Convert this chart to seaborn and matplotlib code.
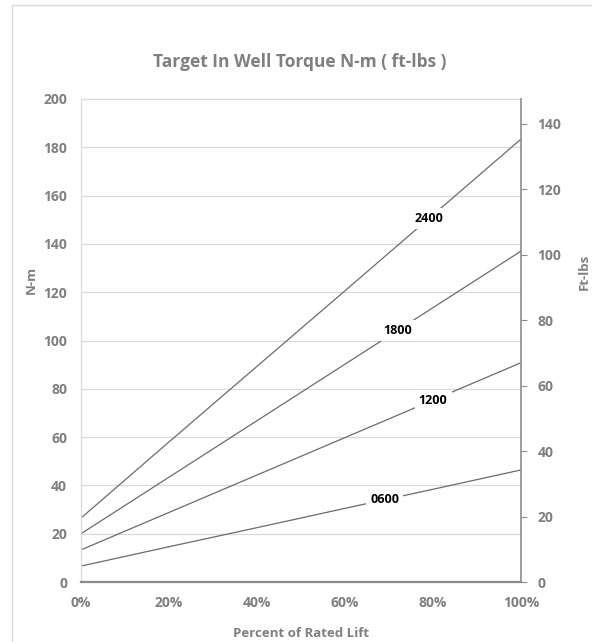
import matplotlib
matplotlib.use('Agg')
import matplotlib.pyplot as plt
import numpy as np
import pandas as pd
import seaborn as sns

# ── Data ──────────────────────────────────────────────────────────────────
pct_lift = [0, 20, 40, 60, 80, 100]
torque_2400 = [26.5, 58.0, 89.3, 120.6, 152.0, 183.4]
torque_1800 = [20.0, 43.4, 66.8, 90.2, 113.6, 137.0]
torque_1200 = [13.3, 28.8, 44.3, 59.8, 75.3, 90.8]
torque_0600 = [6.6, 14.6, 22.5, 30.5, 38.4, 46.4]
series_names = ["2400", "1800", "1200", "0600"]
label_at_pct = [79, 72, 80, 69]

NM_PER_FTLB = 1.3558
left_ticks = list(range(0, 201, 20))
right_ticks = list(range(0, 141, 20))
x_ticks = [0, 20, 40, 60, 80, 100]

df = pd.DataFrame({
    "pct": pct_lift * 4,
    "torque": torque_2400 + torque_1800 + torque_1200 + torque_0600,
    "series": sum([[n] * len(pct_lift) for n in series_names], []),
})

sns.set_style("white")
plt.rcParams['font.family'] = ['Open Sans', 'DejaVu Sans']

GRAY_TXT = "#7f7f7f"
LINE_C = "#6b6b6b"

fig = plt.figure(figsize=(5.92, 6.42), dpi=100)
ax = fig.add_axes([81/592, 1-582/642, 440/592, 483/642])

sns.lineplot(data=df, x="pct", y="torque", hue="series",
             palette={n: LINE_C for n in series_names},
             linewidth=0.9, legend=False, ax=ax)

ax.set_xlim(0, 100)
ax.set_ylim(0, 200)
ax.set_yticks(left_ticks)
ax.set_xticks(x_ticks)
ax.set_xticklabels([f"{t}%" for t in x_ticks])
ax.grid(axis='y', color="#d9d9d9", linewidth=0.9)
ax.set_axisbelow(True)
for s in ["top", "left"]:
    ax.spines[s].set_color("#d9d9d9")
    ax.spines[s].set_linewidth(0.9)
ax.spines["bottom"].set_color("#8c8c8c")
ax.spines["bottom"].set_linewidth(1.6)
ax.spines["right"].set_visible(False)
ax.tick_params(axis='both', length=0, labelsize=10, labelcolor=GRAY_TXT, pad=10)
for lab in ax.get_xticklabels() + ax.get_yticklabels():
    lab.set_fontweight('bold')
ax.set_xlabel("Percent of Rated Lift", fontsize=9.5, fontweight='bold', color=GRAY_TXT, labelpad=12)
ax.set_ylabel("N-m", fontsize=9.5, fontweight='bold', color=GRAY_TXT)
ax.yaxis.set_label_coords(-0.098, 0.625)

# inline series labels
for name, xp in zip(series_names, label_at_pct):
    vals = df[df.series == name]
    yv = np.interp(xp, vals.pct, vals.torque)
    ax.text(xp, yv, name, ha='center', va='center', fontsize=9, fontweight='bold',
            color='black', bbox=dict(facecolor='white', edgecolor='none', pad=3))

# right axis in ft-lbs
ax2 = ax.twinx()
ax2.set_ylim(0, 200 / NM_PER_FTLB)
ax2.set_yticks(right_ticks)
for s in ["top", "left", "bottom"]:
    ax2.spines[s].set_visible(False)
ax2.spines["right"].set_color("#8c8c8c")
ax2.spines["right"].set_linewidth(1.2)
ax2.tick_params(axis='y', length=4, direction='out', color="#8c8c8c",
                labelsize=10, labelcolor=GRAY_TXT, pad=8)
for lab in ax2.get_yticklabels():
    lab.set_fontweight('bold')
ax2.set_ylabel("Ft-lbs", fontsize=9.5, fontweight='bold', color=GRAY_TXT)
ax2.yaxis.set_label_coords(1.13, 0.642)

fig.text(300/592, 1-62/642, "Target In Well Torque N-m ( ft-lbs )", ha='center', va='center',
         fontsize=12.5, fontweight='bold', color=GRAY_TXT)

# outer chart frame
fig.add_artist(plt.Line2D([12/592, 12/592], [0, 1-5/642], transform=fig.transFigure,
                          color="#d9d9d9", linewidth=1))
fig.add_artist(plt.Line2D([12/592, 1], [1-5/642, 1-5/642], transform=fig.transFigure,
                          color="#d9d9d9", linewidth=1))

fig.savefig("out.png", dpi=100)
